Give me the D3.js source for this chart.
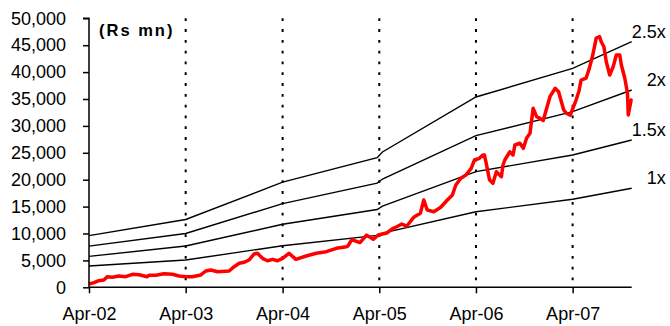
<!DOCTYPE html>
<html>
<head>
<meta charset="utf-8">
<script src="https://cdn.jsdelivr.net/npm/d3@7"></script>
<style>
    body { margin: 0; background: #fff; }
    svg { display: block; font-family: "Liberation Sans", Arial, sans-serif; }
</style>
</head>
<body>
<div id="chartDiv"></div>
<script>

// market cap (Rs mn) and the P/BV style bands
var bandDates = ["2002-04-01", "2003-04-01", "2004-04-01", "2005-03-24", "2005-04-13", "2006-04-01", "2007-04-01", "2007-11-10"];
var band1x  = [3960, 5070, 7730, 9640, 10060, 14050, 16360, 18400];
var band15x = [5750, 7680, 11710, 14460, 15090, 21490, 24590, 27380];
var band2x  = [7650, 10000, 15550, 19350, 20120, 28180, 32640, 36670];
var band25x = [9600, 12600, 19550, 24100, 25150, 35370, 40700, 45650];
var bandLabels = ["1x", "1.5x", "2x", "2.5x"];

var mcapDates = [
    "2002-04-01", "2002-04-20", "2002-05-08", "2002-05-27", "2002-06-09", "2002-06-28", "2002-07-23", "2002-08-17",
    "2002-09-12", "2002-10-07", "2002-11-07", "2002-11-13", "2002-12-09", "2003-01-09", "2003-02-10", "2003-03-07",
    "2003-04-01", "2003-04-26", "2003-05-28", "2003-06-16", "2003-07-05", "2003-07-30", "2003-09-12", "2003-10-01",
    "2003-10-20", "2003-11-07", "2003-11-26", "2003-12-15", "2003-12-28", "2004-01-16", "2004-02-04", "2004-02-23",
    "2004-03-13", "2004-04-01", "2004-04-25", "2004-05-21", "2004-06-29", "2004-08-06", "2004-09-13", "2004-10-21",
    "2004-11-28", "2004-12-04", "2004-12-17", "2004-12-23", "2005-01-18", "2005-02-12", "2005-03-09", "2005-03-28",
    "2005-04-29", "2005-05-24", "2005-06-06", "2005-06-25", "2005-07-14", "2005-08-09", "2005-09-03", "2005-09-16",
    "2005-09-29", "2005-10-24", "2005-11-19", "2005-12-14", "2006-01-02", "2006-01-15", "2006-02-03", "2006-02-22",
    "2006-03-14", "2006-03-26", "2006-04-14", "2006-04-27", "2006-05-03", "2006-05-10", "2006-05-22", "2006-06-04",
    "2006-06-17", "2006-07-06", "2006-07-12", "2006-07-19", "2006-08-07", "2006-08-19", "2006-08-26", "2006-09-14",
    "2006-09-27", "2006-10-09", "2006-10-22", "2006-11-03", "2006-11-16", "2006-11-29", "2006-12-11", "2006-12-24",
    "2007-01-06", "2007-01-25", "2007-02-07", "2007-02-26", "2007-03-10", "2007-03-23", "2007-04-14", "2007-04-25",
    "2007-05-03", "2007-05-22", "2007-06-03", "2007-06-16", "2007-06-29", "2007-07-12", "2007-07-18", "2007-07-28",
    "2007-08-06", "2007-08-19", "2007-09-01", "2007-09-13", "2007-09-26", "2007-10-02", "2007-10-15", "2007-10-25",
    "2007-10-28", "2007-11-03", "2007-11-08", "2007-11-10"
];
var mcapValues = [
    610, 860, 1230, 1360, 1970, 1860, 2100, 1970,
    2420, 2340, 1970, 2230, 2230, 2530, 2420, 2100,
    1970, 1970, 2290, 3030, 3220, 2900, 3030, 3830,
    4460, 4650, 5070, 6190, 6320, 5390, 4940, 5200,
    4940, 5390, 6320, 5200, 5820, 6320, 6620, 7250,
    7550, 7680, 8790, 8790, 8290, 9700, 8920, 9720,
    10100, 10970, 11260, 11760, 11390, 13010, 13750, 16230,
    14370, 14050, 14870, 16230, 17160, 19010, 20260, 20870,
    22120, 23660, 23980, 24590, 24590, 23000, 20000, 19330,
    21490, 20560, 22730, 23660, 25200, 24600, 26450, 26770,
    25840, 27700, 28620, 33270, 31710, 31410, 31000, 33270,
    35500, 36990, 36360, 33000, 32300, 32000, 34800, 36500,
    38500, 38900, 40700, 43170, 46300, 46580, 45650, 44720,
    41930, 39460, 41010, 43180, 43180, 41320, 38850, 36060,
    32030, 33570, 34810, 34690
];

var yTicks = [0, 5000, 10000, 15000, 20000, 25000, 30000, 35000, 40000, 45000, 50000];
var xTickDates = ["2002-04-01", "2003-04-01", "2004-04-01", "2005-04-01", "2006-04-01", "2007-04-01"];
var xTickLabels = ["Apr-02", "Apr-03", "Apr-04", "Apr-05", "Apr-06", "Apr-07"];

var parseDate = d3.timeParse("%Y-%m-%d");

var margin = {
        top: 18.3,
        right: 38.3,
        bottom: 38.7,
        left: 89
    },
    width = 670 - margin.left - margin.right,
    height = 326 - margin.top - margin.bottom;

var x = d3.scaleTime()
    .domain([parseDate("2002-04-01"), parseDate("2007-11-10")])
    .range([0, width]);

var y = d3.scaleLinear()
    .domain([0, 50000])
    .range([height, 0]);

var svg = d3.select("#chartDiv").append("svg")
    .attr("width", 670)
    .attr("height", 326)
    .append("g")
    .attr("transform", "translate(" + margin.left + "," + margin.top + ")");

// dotted year markers
svg.selectAll(".yearLine")
    .data(xTickDates.slice(1))
    .enter().append("line")
    .attr("class", "yearLine")
    .attr("x1", function (d) { return x(parseDate(d)); })
    .attr("x2", function (d) { return x(parseDate(d)); })
    .attr("y1", 0)
    .attr("y2", height)
    .attr("stroke", "#000")
    .attr("stroke-width", 2)
    .attr("stroke-dasharray", "2.8,8");

// bands
var bands = [band1x, band15x, band2x, band25x];

var line = d3.line()
    .x(function (d) { return x(d.date); })
    .y(function (d) { return y(d.value); });

bands.forEach(function (vals, k) {
    var pts = vals.map(function (v, i) {
        return { date: parseDate(bandDates[i]), value: v };
    });
    svg.append("path")
        .datum(pts)
        .attr("fill", "none")
        .attr("stroke", "#000")
        .attr("stroke-width", 1.4)
        .attr("d", line);

    var last = pts[pts.length - 1];
    svg.append("text")
        .attr("x", x(last.date) + 34)
        .attr("y", y(last.value) - 4)
        .attr("text-anchor", "end")
        .style("font-size", "18px")
        .style("fill", "#000")
        .text(bandLabels[k]);
});

// market cap line
var mcap = mcapValues.map(function (v, i) {
    return { date: parseDate(mcapDates[i]), value: v };
});

svg.append("path")
    .datum(mcap)
    .attr("fill", "none")
    .attr("stroke", "#ff0000")
    .attr("stroke-width", 3.5)
    .attr("stroke-linejoin", "round")
    .attr("d", line);

// axes
var xAxis = d3.axisBottom(x)
    .tickValues(xTickDates.map(parseDate))
    .tickSize(6)
    .tickPadding(14)
    .tickFormat(function (d, i) { return xTickLabels[i]; });

var yAxis = d3.axisLeft(y)
    .tickValues(yTicks)
    .tickSize(6)
    .tickPadding(17)
    .tickFormat(d3.format(","));

var gx = svg.append("g")
    .attr("class", "x axis")
    .attr("transform", "translate(0," + height + ")")
    .call(xAxis);

var gy = svg.append("g")
    .attr("class", "y axis")
    .call(yAxis);

[gx, gy].forEach(function (g) {
    g.select(".domain").attr("stroke", "#000").attr("stroke-width", 1.5);
    g.selectAll(".tick line").attr("stroke", "#000").attr("stroke-width", 1.5);
    g.selectAll(".tick text")
        .style("font-size", "18px")
        .style("font-family", "'Liberation Sans', Arial, sans-serif")
        .style("fill", "#000");
});

gy.select(".domain").attr("d", "M-6," + y(50000) + "H0V" + height);
gx.select(".domain").attr("d", "M0,0H" + width);

svg.append("text")
    .attr("x", 10)
    .attr("y", 18)
    .style("font-size", "16.5px")
    .style("font-weight", "bold")
    .style("letter-spacing", "2px")
    .style("fill", "#000")
    .text("(Rs mn)");

</script>
</body>
</html>
